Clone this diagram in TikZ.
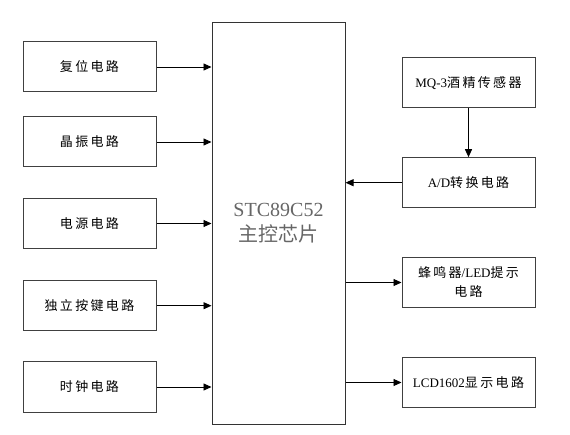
\documentclass[tikz,border=0pt]{standalone}
\usepackage{fontspec}
\setmainfont{Liberation Serif}
\newfontfamily\cjk{Noto Sans CJK SC}
\newfontfamily\cjkwide[LetterSpace=18]{Noto Sans CJK SC}
\usetikzlibrary{arrows.meta}

\begin{document}
\begin{tikzpicture}[x=1pt,y=-1pt]
  \tikzset{
    block/.style={draw=black!75, line width=1pt, minimum width=133pt,
      minimum height=50pt, inner sep=2pt, align=center,
      font=\fontsize{13}{19}\selectfont\cjkwide},
    link/.style={line width=0.9pt, -{Triangle[length=8pt,width=7pt]}}
  }
  \useasboundingbox (0,0) rectangle (570,435);
  % main controller
  \node[draw=black!80, line width=1pt, minimum width=133pt,
    minimum height=401pt, align=center, text=black!60,
    font=\fontsize{20}{25}\selectfont] (main) at (278.5,223.5)
    {STC89C52\\{\cjk 主控芯片}};
  % inputs on the left
  \foreach \name/\y [count=\i] in {复位电路/67, 晶振电路/142, 电源电路/223.5,
      独立按键电路/305.7, 时钟电路/387} {
    \node[block] (left\i) at (89.5,\y) {\name};
    \draw[link] (left\i.east) -- (left\i.east -| main.west);
  }
  % right side
  \node[block] (sensor) at (468.5,83) {{\rmfamily MQ-3}酒精传感器};
  \node[block] (adc) at (468.5,182.7) {{\rmfamily A/D}转换电路};
  \node[block] (buzzer) at (468.5,282.5) {蜂鸣器{\rmfamily /LED}提示\\电路};
  \node[block] (lcd) at (468.5,382.5) {{\rmfamily LCD1602}显示电路};
  \draw[link] (sensor) -- (adc);
  \draw[link] (adc.west) -- (adc.west -| main.east);
  \draw[link] (main.east |- buzzer.west) -- (buzzer.west);
  \draw[link] (main.east |- lcd.west) -- (lcd.west);
\end{tikzpicture}
\end{document}
